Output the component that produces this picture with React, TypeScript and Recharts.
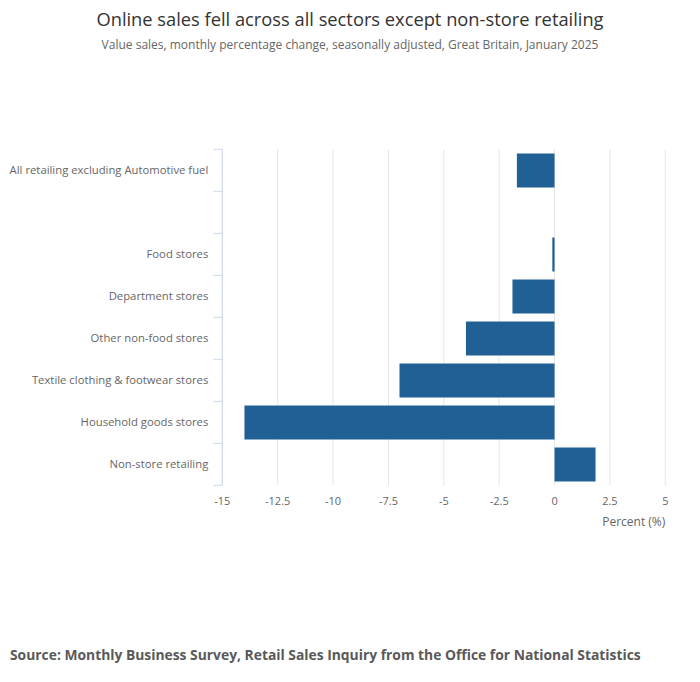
import { Bar, BarChart, CartesianGrid, XAxis, YAxis } from 'recharts';

const categories = [
  'All retailing excluding Automotive fuel',
  '',
  'Food stores',
  'Department stores',
  'Other non-food stores',
  'Textile clothing & footwear stores',
  'Household goods stores',
  'Non-store retailing',
];
const changes: (number | null)[] = [-1.7, null, -0.1, -1.9, -4.0, -7.0, -14.0, 1.85];
const xTicks = [-15, -12.5, -10, -7.5, -5, -2.5, 0, 2.5, 5];

const CHART_W = 700;
const CHART_H = 682;
const PLOT_TOP = 149.3;
const PLOT_BOTTOM = 485.3;
const AXIS_X = 222.3;
const PLOT_RIGHT = 665.3;
const X_AXIS_H = 30;
const BAND = (PLOT_BOTTOM - PLOT_TOP) / categories.length;

const data = categories.map((name, i) => ({ name, value: changes[i] }));

const font = '"Open Sans", "Noto Sans", sans-serif';

function CategoryTick(props: any) {
  const { y, payload, index } = props;
  const lineColor = '#ccd6eb';
  return (
    <g>
      <line x1={AXIS_X - 9} x2={AXIS_X} y1={y - BAND / 2} y2={y - BAND / 2} stroke={lineColor} />
      {index === categories.length - 1 && (
        <line x1={AXIS_X - 9} x2={AXIS_X} y1={y + BAND / 2} y2={y + BAND / 2} stroke={lineColor} />
      )}
      <text x={AXIS_X - 14} y={y} dy="0.355em" textAnchor="end" fill="#666666" fontSize={11.3}>
        {payload.value}
      </text>
    </g>
  );
}

export default function App() {
  return (
    <div
      style={{
        position: 'absolute',
        left: 0,
        top: 0,
        width: CHART_W,
        height: CHART_H,
        background: '#fff',
        fontFamily: font,
      }}
    >
      <div
        style={{
          position: 'absolute',
          top: 6,
          left: 0,
          width: CHART_W,
          textAlign: 'center',
          fontSize: 18.3,
          color: '#333333',
        }}
      >
        Online sales fell across all sectors except non-store retailing
      </div>
      <div
        style={{
          position: 'absolute',
          top: 36,
          left: 0,
          width: CHART_W,
          textAlign: 'center',
          fontSize: 12,
          color: '#666666',
        }}
      >
        Value sales, monthly percentage change, seasonally adjusted, Great Britain, January 2025
      </div>

      <div style={{ position: 'absolute', left: 0, top: 0 }}>
        <BarChart
          width={CHART_W}
          height={CHART_H}
          data={data}
          layout="vertical"
          barCategoryGap="10%"
          margin={{
            top: PLOT_TOP,
            right: CHART_W - PLOT_RIGHT,
            bottom: CHART_H - PLOT_BOTTOM - X_AXIS_H,
            left: 0,
          }}
        >
          <CartesianGrid stroke="#e6e6e6" horizontal={false} />
          <XAxis
            type="number"
            domain={[-15, 5]}
            ticks={xTicks}
            height={X_AXIS_H}
            allowDataOverflow
            axisLine={false}
            tickLine={false}
            tickSize={0}
            tickMargin={12}
            interval={0}
            tick={{ fill: '#666666', fontSize: 11 }}
          />
          <YAxis
            type="category"
            dataKey="name"
            width={AXIS_X}
            interval={0}
            axisLine={{ stroke: '#ccd6eb' }}
            tickLine={false}
            tick={<CategoryTick />}
          />
          <Bar dataKey="value" fill="#206095" isAnimationActive={false} />
        </BarChart>
      </div>

      <div
        style={{
          position: 'absolute',
          top: 513,
          right: CHART_W - PLOT_RIGHT,
          fontSize: 12,
          color: '#666666',
        }}
      >
        Percent (%)
      </div>
      <div
        style={{
          position: 'absolute',
          top: 645,
          left: 10,
          fontSize: 13.85,
          fontWeight: 700,
          color: '#595959',
        }}
      >
        Source: Monthly Business Survey, Retail Sales Inquiry from the Office for National Statistics
      </div>
    </div>
  );
}
